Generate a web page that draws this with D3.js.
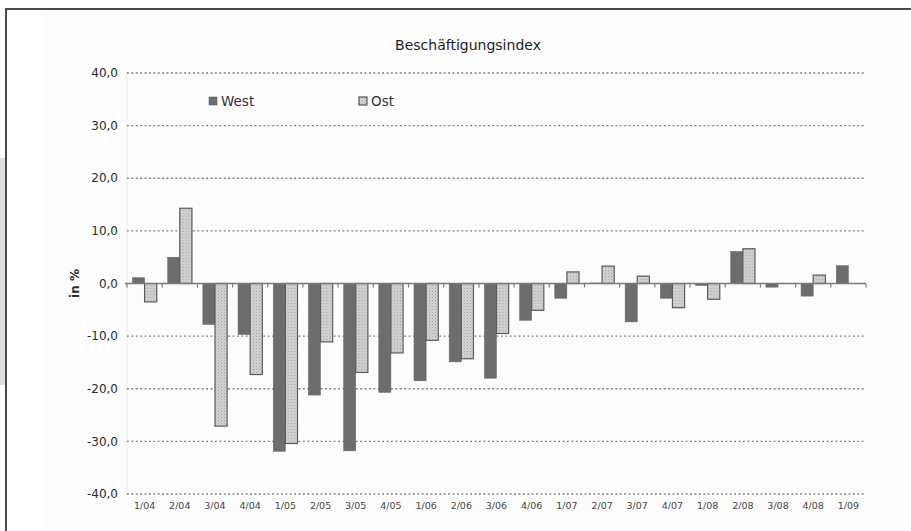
<!DOCTYPE html>
<meta charset="utf-8">
<style>
    body {
        margin: 0;
        background: white;
    }

    text {
        font-family: "DejaVu Sans", Verdana, sans-serif;
    }

    .grid line {
        stroke: #777;
        stroke-width: 1.4px;
        stroke-dasharray: 1.8, 2.6;
    }
</style>

<body>
    <svg id="chart" width="911" height="531"></svg>
    <script src="https://d3js.org/d3.v7.min.js"></script>
    <script>

        const categories = ["1/04", "2/04", "3/04", "4/04", "1/05", "2/05", "3/05", "4/05",
            "1/06", "2/06", "3/06", "4/06", "1/07", "2/07", "3/07", "4/07",
            "1/08", "2/08", "3/08", "4/08", "1/09"];
        const west = [1.1, 5.0, -7.8, -9.7, -31.9, -21.2, -31.8, -20.7, -18.5, -14.9, -18.0,
            -7.0, -2.8, 0.1, -7.3, -2.8, -0.4, 6.1, -0.7, -2.4, 3.4];
        const ost = [-3.5, 14.3, -27.1, -17.3, -30.4, -11.1, -16.9, -13.2, -10.8, -14.3, -9.5,
            -5.1, 2.2, 3.3, 1.4, -4.6, -3.0, 6.6, null, 1.6, null];
        const yTicks = [40, 30, 20, 10, 0, -10, -20, -30, -40];
        const seriesNames = ["West", "Ost"];

        const svg = d3.select("#chart");

        // pattern for the light "Ost" bars
        const defs = svg.append("defs");
        const pat = defs.append("pattern")
            .attr("id", "dots")
            .attr("width", 3).attr("height", 3)
            .attr("patternUnits", "userSpaceOnUse");
        pat.append("rect").attr("width", 3).attr("height", 3).attr("fill", "#d4d4d4");
        pat.append("rect").attr("x", 0).attr("y", 0).attr("width", 1).attr("height", 1).attr("fill", "#9e9e9e");
        pat.append("rect").attr("x", 1.5).attr("y", 1.5).attr("width", 1).attr("height", 1).attr("fill", "#b4b4b4");

        // frame + grey tab on the left
        svg.append("rect")
            .attr("x", 0).attr("y", 158).attr("width", 5).attr("height", 227)
            .attr("fill", "#dedede");
        svg.append("rect")
            .attr("x", 6).attr("y", 9).attr("width", 940).attr("height", 560)
            .attr("fill", "#ffffff").attr("stroke", "#4a4a4a").attr("stroke-width", 2);
        svg.append("rect")
            .attr("x", 43).attr("y", 10).attr("width", 868).attr("height", 521)
            .attr("fill", "#fdfdfd");

        const x0 = 127, x1 = 866;
        const x = d3.scaleBand()
            .domain(categories)
            .range([x0, x1])
            .paddingInner(0.31)
            .paddingOuter(0.155);
        const xSub = d3.scaleBand()
            .domain(seriesNames)
            .range([0, x.bandwidth()]);
        const y = d3.scaleLinear()
            .domain([-40, 40])
            .range([494, 73]);

        const fmt = v => d3.format(".1f")(v).replace(".", ",").replace("\u2212", "-");

        // faint y axis line
        svg.append("line")
            .attr("x1", x0).attr("x2", x0)
            .attr("y1", y(40)).attr("y2", y(-40))
            .attr("stroke", "#ececec");

        // dotted gridlines
        svg.append("g")
            .attr("class", "grid")
            .selectAll("line")
            .data(yTicks.filter(d => d !== 0))
            .enter()
            .append("line")
            .attr("x1", x0).attr("x2", x1)
            .attr("y1", d => y(d)).attr("y2", d => y(d));

        // y labels
        svg.append("g")
            .selectAll("text")
            .data(yTicks)
            .enter()
            .append("text")
            .attr("x", 118)
            .attr("y", d => y(d))
            .attr("dy", "0.35em")
            .attr("text-anchor", "end")
            .attr("font-size", 12)
            .attr("fill", "#2a2a2a")
            .text(fmt);

        svg.append("text")
            .attr("transform", "translate(79," + y(0) + ") rotate(-90)")
            .attr("text-anchor", "middle")
            .attr("font-size", 12)
            .attr("font-weight", "bold")
            .attr("fill", "#2a2a2a")
            .text("in %");

        // bars
        const rows = categories.map((c, i) => ({ cat: c, West: west[i], Ost: ost[i] }));
        const groups = svg.append("g")
            .selectAll("g")
            .data(rows)
            .enter()
            .append("g")
            .attr("transform", d => "translate(" + x(d.cat) + ",0)");

        groups.selectAll("rect")
            .data(d => seriesNames.map(k => ({ key: k, value: d[k] })).filter(e => e.value !== null))
            .enter()
            .append("rect")
            .attr("x", d => xSub(d.key))
            .attr("y", d => y(Math.max(0, d.value)))
            .attr("width", xSub.bandwidth())
            .attr("height", d => Math.abs(y(d.value) - y(0)))
            .attr("fill", d => d.key === "West" ? "#6d6d6d" : "url(#dots)")
            .attr("stroke", d => d.key === "West" ? "#666" : "#5a5a5a")
            .attr("stroke-width", d => d.key === "West" ? 0.5 : 1.2);

        // zero axis with tick marks at band boundaries
        svg.append("line")
            .attr("x1", x0 - 2).attr("x2", x1)
            .attr("y1", y(0)).attr("y2", y(0))
            .attr("stroke", "#7a7a7a").attr("stroke-width", 1.5);
        const step = x.step();
        svg.append("g")
            .selectAll("line")
            .data(d3.range(categories.length + 1))
            .enter()
            .append("line")
            .attr("x1", i => x0 + i * step).attr("x2", i => x0 + i * step)
            .attr("y1", y(0)).attr("y2", y(0) + 4)
            .attr("stroke", "#7a7a7a").attr("stroke-width", 1.2);

        // x labels
        svg.append("g")
            .selectAll("text")
            .data(categories)
            .enter()
            .append("text")
            .attr("x", d => x(d) + x.bandwidth() / 2)
            .attr("y", 509)
            .attr("text-anchor", "middle")
            .attr("font-size", 9.5)
            .attr("fill", "#444")
            .text(d => d);

        // title
        svg.append("text")
            .attr("x", 468).attr("y", 50)
            .attr("text-anchor", "middle")
            .attr("font-size", 14)
            .attr("fill", "#222")
            .text("Beschäftigungsindex");

        // legend
        const legend = [
            { name: "West", x: 209, fill: "#6d6d6d" },
            { name: "Ost", x: 359, fill: "url(#dots)" }
        ];
        const lg = svg.append("g")
            .selectAll("g")
            .data(legend)
            .enter()
            .append("g")
            .attr("transform", d => "translate(" + d.x + ",97)");
        lg.append("rect")
            .attr("width", 8).attr("height", 8)
            .attr("fill", d => d.fill)
            .attr("stroke", "#555").attr("stroke-width", d => d.name === "Ost" ? 1.2 : 0.5);
        lg.append("text")
            .attr("x", 12).attr("y", 4)
            .attr("dy", "0.35em")
            .attr("font-size", 13.5)
            .attr("fill", "#333")
            .text(d => d.name);

    </script>
</body>

</html>
